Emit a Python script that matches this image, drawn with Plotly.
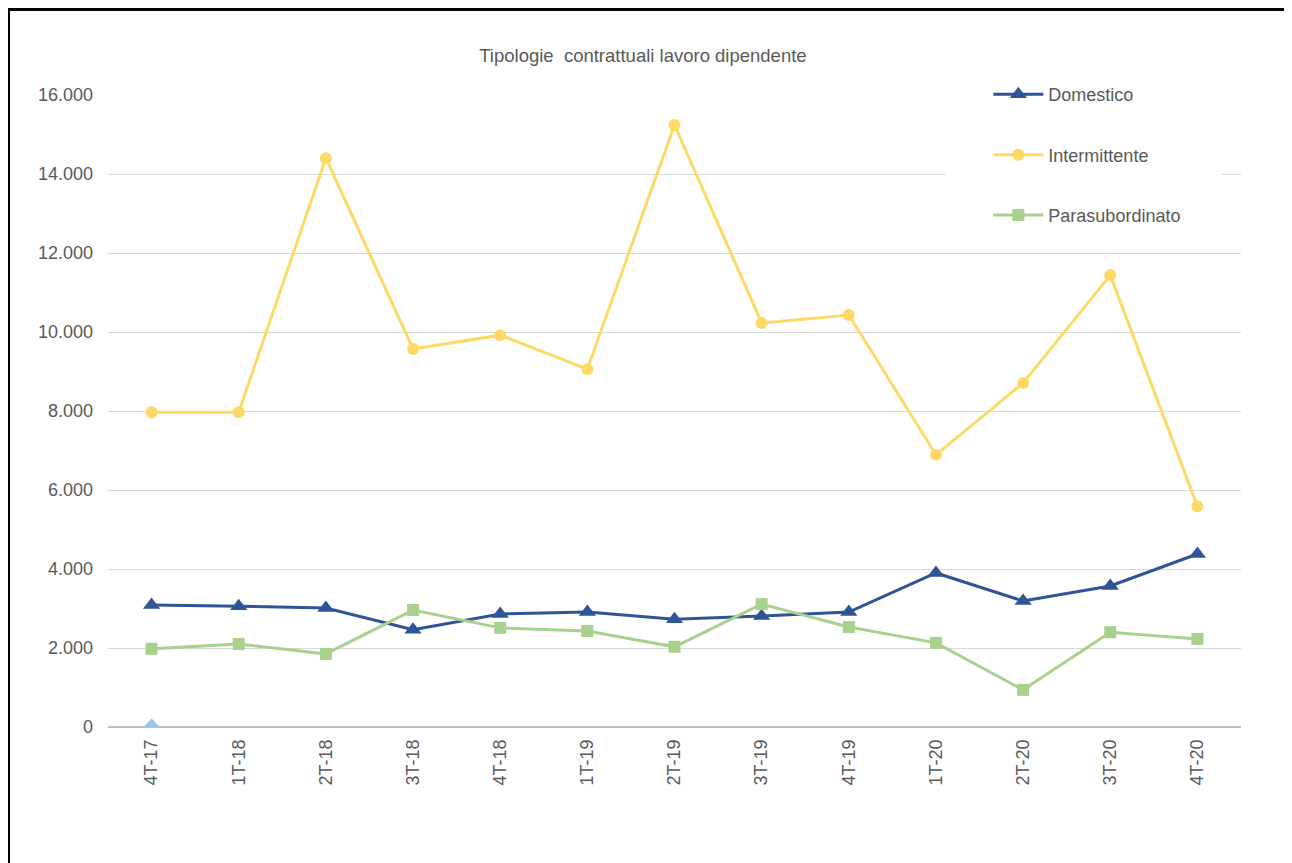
import plotly.graph_objects as go

# Data
quarters = ['4T-17', '1T-18', '2T-18', '3T-18', '4T-18', '1T-19', '2T-19',
            '3T-19', '4T-19', '1T-20', '2T-20', '3T-20', '4T-20']
domestico = [3090, 3060, 3010, 2460, 2860, 2910, 2730, 2810, 2910, 3900, 3190, 3570, 4380]
intermittente = [7970, 7970, 14400, 9570, 9920, 9060, 15240, 10230, 10430, 6890, 8710, 11440, 5590]
parasubordinato = [1980, 2100, 1850, 2960, 2510, 2430, 2030, 3110, 2530, 2130, 940, 2400, 2230]
altro = [0] + [None] * 12

fig = go.Figure()

fig.add_trace(go.Scatter(
    x=quarters, y=domestico, name='Domestico', mode='lines+markers',
    line=dict(color='#2F5597', width=3),
    marker=dict(symbol='triangle-up', size=15, color='#2F5597'),
    legendgroup='a'))
fig.add_trace(go.Scatter(
    x=quarters, y=intermittente, name='Intermittente', mode='lines+markers',
    line=dict(color='#FFD966', width=3),
    marker=dict(symbol='circle', size=12, color='#FFD966'),
    legendgroup='b'))
fig.add_trace(go.Scatter(
    x=quarters, y=parasubordinato, name='Parasubordinato', mode='lines+markers',
    line=dict(color='#A9D18E', width=3),
    marker=dict(symbol='square', size=12, color='#A9D18E'),
    legendgroup='c'))
fig.add_trace(go.Scatter(
    x=quarters, y=altro, mode='markers', showlegend=False,
    marker=dict(symbol='diamond', size=13, color='#9DC3E6')))

fig.update_layout(
    width=1284, height=855,
    margin=dict(l=100, r=51, t=87, b=136),
    paper_bgcolor='white', plot_bgcolor='white',
    font=dict(family='Liberation Sans, Arial, sans-serif', size=18, color='#595959'),
    separators=',.',
    title=dict(text='Tipologie  contrattuali lavoro dipendente',
               x=0.4945, xanchor='center', y=0.944, yanchor='middle',
               font=dict(size=18.5, color='#595959')),
    legend=dict(x=0.777, y=1.030, xanchor='left', yanchor='top',
                bgcolor='white', tracegroupgap=34,
                font=dict(size=18, color='#595959'),
                itemwidth=50),
    showlegend=True,
)

fig.update_xaxes(
    range=[-0.5, 12.5],
    showgrid=False, showline=False, ticks='',
    tickangle=-90, tickfont=dict(size=18),
    ticklabelstandoff=8,
)
fig.update_yaxes(
    range=[0, 16000], dtick=2000, tickformat=',d',
    gridcolor='#D9D9D9', gridwidth=1,
    zeroline=True, zerolinecolor='#BFBFBF', zerolinewidth=1.5,
    showline=False, ticks='', tickfont=dict(size=18),
    ticklabelstandoff=14,
)

# white box behind the legend hiding the gridlines
fig.add_shape(type='rect', xref='paper', yref='paper',
              x0=0.739, x1=0.983, y0=0.786, y1=1.03,
              fillcolor='white', line=dict(width=0), layer='above')

# outer frame
fig.add_shape(type='rect', xref='paper', yref='paper',
              x0=-0.0878, x1=1.0432, y0=-0.3, y1=1.1354,
              line=dict(color='black', width=3), fillcolor='rgba(0,0,0,0)')

fig.write_html("out.html")
